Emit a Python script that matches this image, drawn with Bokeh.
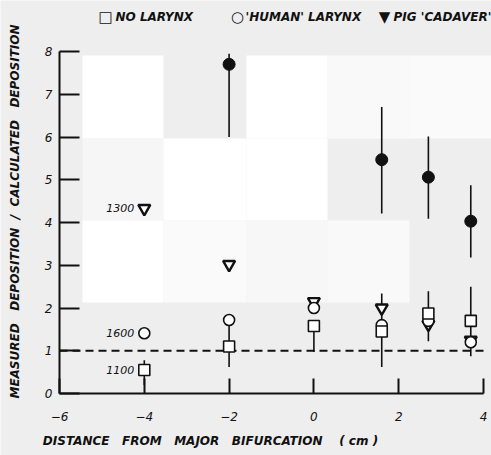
import math

from bokeh.plotting import figure
from bokeh.models import Label, BoxAnnotation, FixedTicker, ColumnDataSource
from bokeh.embed import file_html
from bokeh.resources import INLINE

# Distance from the major bifurcation (cm) of each sampling station
dist = [-4, -2, 0, 1.6, 2.7, 3.7]

# Measured deposition / calculated deposition for the open-symbol series
no_larynx = [0.55, 1.10, 1.58, 1.45, 1.87, 1.70]
human_larynx = [1.41, 1.72, 2.00, 1.60, 1.70, 1.20]
pig_cadaver = [4.33, 3.02, 2.15, 2.00, 1.62, 1.25]

# Spread of the open-symbol measurements at each station
open_low = [0.20, 0.62, 0.97, 0.62, 1.22, 0.87]
open_high = [0.78, 1.60, 1.58, 2.34, 2.39, 2.50]

# Solid-symbol series with its spread
solid_dist = [-2, 1.6, 2.7, 3.7]
solid_ratio = [7.70, 5.47, 5.06, 4.03]
solid_low = [6.00, 4.21, 4.09, 3.18]
solid_high = [7.95, 6.70, 6.01, 4.87]

# Flow rates written next to the -4 cm points
flow_text = ["1300", "1600", "1100"]
flow_dist = [dist[0], dist[0], dist[0]]
flow_ratio = [pig_cadaver[0], human_larynx[0], no_larynx[0]]

# measured == calculated
unit_ratio = 1.0

x_ticks = [-6, -4, -2, 0, 2, 4]
y_ticks = [0, 1, 2, 3, 4, 5, 6, 7, 8]

# key entries: symbol and name of each open-symbol series
key_symbols = ["\u25a1", "\u25cb", "\u25bc"]
key_names = ["NO LARYNX", "'HUMAN' LARYNX", "PIG 'CADAVER'"]

FONT = "DejaVu Sans"
INK = "#111111"
PAPER = "#eeeeee"

W, H = 491, 455
# the data frame fills the canvas; the axes sit inside it at fixed locations
PX_PER_X = 42.4
PX_PER_Y = 42.75
AX_LEFT_PX, AX_BOTTOM_PX = 59, 62
x_lo = x_ticks[0] - AX_LEFT_PX / PX_PER_X
x_hi = x_lo + W / PX_PER_X
y_lo = y_ticks[0] - AX_BOTTOM_PX / PX_PER_Y
y_hi = y_lo + H / PX_PER_Y


def px_x(px):
    return x_lo + px / PX_PER_X


def px_y(py):
    return y_hi - py / PX_PER_Y


p = figure(
    width=W, height=H,
    x_range=(x_lo, x_hi), y_range=(y_lo, y_hi),
    output_backend="svg", toolbar_location=None,
    min_border=0,
)
p.background_fill_color = PAPER
p.border_fill_color = PAPER
p.outline_line_color = None
p.grid.visible = False

# lighter paper patches behind the data area (canvas pixel blocks)
cols = [82, 163, 246, 327, 409, 491]
rows = [55, 138, 220, 302]
patch_tones = {
    (0, 0): "#ffffff", (0, 2): "#ffffff", (0, 3): "#f9f9f9", (0, 4): "#fafafa",
    (1, 0): "#f6f6f6", (1, 1): "#ffffff", (1, 2): "#ffffff",
    (2, 0): "#ffffff", (2, 1): "#fafafa", (2, 2): "#f7f7f7", (2, 3): "#f9f9f9",
}
for (r, c), tone in patch_tones.items():
    p.add_layout(BoxAnnotation(left=px_x(cols[c]), right=px_x(cols[c + 1]),
                               top=px_y(rows[r]), bottom=px_y(rows[r + 1]),
                               fill_color=tone, fill_alpha=1.0,
                               line_color=None, level="underlay"))

# axes
for ax in (p.xaxis, p.yaxis):
    ax.axis_line_width = 2
    ax.axis_line_color = INK
    ax.major_tick_line_width = 2
    ax.major_tick_line_color = INK
    ax.minor_tick_line_color = None
    ax.major_tick_out = 0
    ax.major_label_text_font = FONT
    ax.major_label_text_font_style = "italic"
    ax.major_label_text_font_size = "12px"
    ax.major_label_text_color = INK

p.xaxis.ticker = FixedTicker(ticks=x_ticks)
p.xaxis.bounds = (x_ticks[0], x_ticks[-1])
p.xaxis.fixed_location = y_ticks[0]
p.xaxis.major_tick_in = 15
p.xaxis.major_label_standoff = 18

p.yaxis.ticker = FixedTicker(ticks=y_ticks)
p.yaxis.bounds = (y_ticks[0], y_ticks[-1])
p.yaxis.fixed_location = x_ticks[0]
p.yaxis.major_tick_in = 20
p.yaxis.major_label_standoff = 7

# reference line: measured equals calculated
p.line(x=[x_ticks[0], x_ticks[-1]], y=[unit_ratio, unit_ratio],
       line_color=INK, line_width=2, line_dash="8 5")

open_src = ColumnDataSource(dict(x=dist, lo=open_low, hi=open_high,
                                 nl=no_larynx, hl=human_larynx, pc=pig_cadaver))
solid_src = ColumnDataSource(dict(x=solid_dist, y=solid_ratio,
                                  lo=solid_low, hi=solid_high))

p.segment(x0="x", y0="lo", x1="x", y1="hi", source=open_src,
          line_color=INK, line_width=1.6)
p.segment(x0="x", y0="lo", x1="x", y1="hi", source=solid_src,
          line_color=INK, line_width=1.6)

p.scatter(x="x", y="pc", source=open_src, marker="inverted_triangle",
          size=12, line_color=INK, line_width=2.4, fill_color="white")
p.scatter(x="x", y="hl", source=open_src, marker="circle",
          size=11, line_color=INK, line_width=1.6, fill_color="white")
p.scatter(x="x", y="nl", source=open_src, marker="square",
          size=11, line_color=INK, line_width=1.6, fill_color="white")
p.scatter(x="x", y="y", source=solid_src, marker="circle",
          size=12, line_color=INK, line_width=1, fill_color=INK)

for t, xv, yv in zip(flow_text, flow_dist, flow_ratio):
    p.add_layout(Label(x=xv, y=yv, text=t, x_offset=-10,
                       text_align="right", text_baseline="middle",
                       text_font=FONT, text_font_style="italic",
                       text_font_size="11px", text_color=INK))

NB = "\u00a0"
y_title = ("MEASURED" + NB * 3 + "DEPOSITION" + NB * 2 + "/" + NB * 2 +
           "CALCULATED" + NB * 3 + "DEPOSITION")
x_title = ("DISTANCE" + NB * 3 + "FROM" + NB * 3 + "MAJOR" + NB * 3 +
           "BIFURCATION" + NB * 4 + "(" + NB + "cm" + NB + ")")

TITLE_STYLE = dict(text_font=FONT, text_font_style="bold italic",
                   text_font_size="12px", text_color=INK)

p.add_layout(Label(x=14, y=H - 211, x_units="screen", y_units="screen",
                   text=y_title, angle=math.pi / 2,
                   text_align="center", text_baseline="middle", **TITLE_STYLE))
p.add_layout(Label(x=210, y=H - 440, x_units="screen", y_units="screen",
                   text=x_title, text_align="center", text_baseline="middle",
                   **TITLE_STYLE))

# key along the top edge: symbol then series name
key_symbol_px = [105, 237, 384]
key_text_px = [115, 245, 393]
for sym, name, sx, tx in zip(key_symbols, key_names, key_symbol_px, key_text_px):
    p.add_layout(Label(x=sx, y=H - 16, x_units="screen", y_units="screen",
                       text=sym, text_align="center", text_baseline="middle",
                       text_font=FONT, text_font_size="15px", text_color=INK))
    p.add_layout(Label(x=tx, y=H - 16, x_units="screen", y_units="screen",
                       text=name.replace(" ", NB), text_align="left",
                       text_baseline="middle", **TITLE_STYLE))

open("out.html", "w").write(file_html(p, INLINE))
